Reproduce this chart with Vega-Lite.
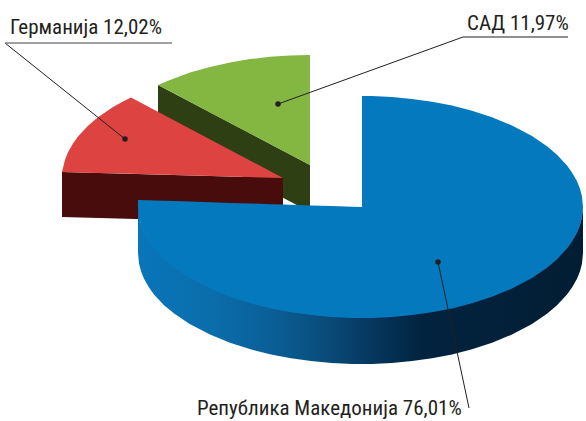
{"$schema":"https://vega.github.io/schema/vega-lite/v6.json","width":586,"height":421,"padding":0,"autosize":{"type":"none"},"background":"white","config":{"view":{"stroke":null}},
"datasets":{
"greenSide":[{"x":158,"top":85,"bottom":132},{"x":310,"top":165,"bottom":212}],
"greenTop":[{"x":158,"top":85,"bottom":85},{"x":170,"top":79.9,"bottom":91.3},{"x":190,"top":72.6,"bottom":101.8},{"x":210,"top":66.9,"bottom":112.4},{"x":230,"top":62.5,"bottom":122.9},{"x":250,"top":59.1,"bottom":133.4},{"x":270,"top":56.8,"bottom":143.9},{"x":290,"top":55.5,"bottom":154.5},{"x":310,"top":55,"bottom":165}],
"redSide":[{"x":62,"top":172,"bottom":217},{"x":283,"top":178,"bottom":223}],
"redTop":[{"x":62,"top":172,"bottom":172},{"x":65,"top":159.8,"bottom":172.1},{"x":68,"top":152.3,"bottom":172.2},{"x":73,"top":143.4,"bottom":172.3},{"x":78,"top":136.5,"bottom":172.4},{"x":88,"top":125.8,"bottom":172.7},{"x":98,"top":117.3,"bottom":172.9},{"x":113,"top":107.1,"bottom":173.3},{"x":123,"top":101.4,"bottom":173.6},{"x":131,"top":97.4,"bottom":173.8},{"x":283,"top":178,"bottom":178}],
"blueSide":[{"x":138,"top":200,"bottom":253},{"x":139,"top":216.5,"bottom":263.5},{"x":141,"top":224.2,"bottom":271.2},{"x":144,"top":231.7,"bottom":278.7},{"x":149,"top":240.6,"bottom":287.6},{"x":154,"top":247.5,"bottom":294.5},{"x":164,"top":258.2,"bottom":305.2},{"x":174.5,"top":266.7,"bottom":313.7},{"x":189.7,"top":276.9,"bottom":323.9},{"x":210,"top":287.5,"bottom":334.5},{"x":230,"top":295.8,"bottom":342.8},{"x":250.5,"top":302.3,"bottom":349.3},{"x":271,"top":307.4,"bottom":354.4},{"x":291,"top":311.3,"bottom":358.3},{"x":311,"top":314.1,"bottom":361.1},{"x":331.6,"top":316,"bottom":363},{"x":352,"top":316.9,"bottom":363.9},{"x":362,"top":317,"bottom":364},{"x":372,"top":316.9,"bottom":363.9},{"x":392,"top":316,"bottom":363},{"x":412,"top":314.1,"bottom":361.1},{"x":432,"top":311.3,"bottom":358.3},{"x":452,"top":307.4,"bottom":354.4},{"x":472,"top":302.3,"bottom":349.3},{"x":492,"top":295.8,"bottom":342.8},{"x":512,"top":287.5,"bottom":334.5},{"x":532,"top":276.9,"bottom":323.9},{"x":547,"top":266.7,"bottom":313.7},{"x":557,"top":258.2,"bottom":305.2},{"x":567,"top":247.5,"bottom":294.5},{"x":572,"top":240.6,"bottom":287.6},{"x":577,"top":231.7,"bottom":278.7},{"x":580,"top":224.2,"bottom":271.2},{"x":582,"top":216.5,"bottom":263.5},{"x":583,"top":206,"bottom":253}],
"blueTop":[{"x":138,"top":200,"bottom":207},{"x":139,"top":200,"bottom":217.5},{"x":141,"top":200.1,"bottom":225.2},{"x":144,"top":200.2,"bottom":232.7},{"x":149,"top":200.3,"bottom":241.6},{"x":154,"top":200.5,"bottom":248.5},{"x":164,"top":200.8,"bottom":259.2},{"x":174.5,"top":201.1,"bottom":267.7},{"x":189.7,"top":201.6,"bottom":277.9},{"x":210,"top":202.3,"bottom":288.5},{"x":230,"top":202.9,"bottom":296.8},{"x":250.5,"top":203.5,"bottom":303.3},{"x":271,"top":204.2,"bottom":308.4},{"x":291,"top":204.8,"bottom":312.3},{"x":311,"top":205.4,"bottom":315.1},{"x":331.6,"top":206.1,"bottom":317},{"x":352,"top":206.7,"bottom":317.9},{"x":362,"top":207,"bottom":318},{"x":362,"top":96,"bottom":318},{"x":372,"top":96.1,"bottom":317.9},{"x":392,"top":97,"bottom":317},{"x":412,"top":98.9,"bottom":315.1},{"x":432,"top":101.7,"bottom":312.3},{"x":452,"top":105.6,"bottom":308.4},{"x":472,"top":110.7,"bottom":303.3},{"x":492,"top":117.2,"bottom":296.8},{"x":512,"top":125.5,"bottom":288.5},{"x":532,"top":136.1,"bottom":277.9},{"x":547,"top":146.3,"bottom":267.7},{"x":557,"top":154.8,"bottom":259.2},{"x":567,"top":165.5,"bottom":248.5},{"x":572,"top":172.4,"bottom":241.6},{"x":577,"top":181.3,"bottom":232.7},{"x":580,"top":188.8,"bottom":225.2},{"x":582,"top":196.5,"bottom":217.5},{"x":583,"top":207,"bottom":207}],
"leaders":[{"name":"Германија","o":1,"x":125,"y":139},{"name":"Германија","o":2,"x":5,"y":43},{"name":"САД","o":1,"x":278,"y":104},{"name":"САД","o":2,"x":463,"y":37},{"name":"САД","o":3,"x":568,"y":37},{"name":"Република Македонија","o":1,"x":438,"y":262},{"name":"Република Македонија","o":2,"x":469,"y":408}],
"underline":[{"x":5,"y":43},{"x":172,"y":43}],
"dots":[{"x":125,"y":139},{"x":278,"y":104},{"x":438,"y":262}],
"labels":[{"x":10,"y":34,"label":"Германија 12,02%"},{"x":467,"y":30,"label":"САД 11,97%"},{"x":197,"y":415,"label":"Република Македонија 76,01%"}]
},
"encoding":{
"x":{"field":"x","type":"quantitative","axis":null,"scale":{"domain":[0,586],"range":[0,586],"nice":false,"zero":false}},
"y":{"field":"top","type":"quantitative","axis":null,"scale":{"domain":[0,421],"range":[0,421],"nice":false,"zero":false}}
},
"layer":[
{"data":{"name":"greenSide"},"mark":{"type":"area","fill":"#2f3f14"},"encoding":{"y2":{"field":"bottom"}}},
{"data":{"name":"greenTop"},"mark":{"type":"area","fill":"#84b741"},"encoding":{"y2":{"field":"bottom"}}},
{"data":{"name":"redSide"},"mark":{"type":"area","fill":"#470c0b"},"encoding":{"y2":{"field":"bottom"}}},
{"data":{"name":"redTop"},"mark":{"type":"area","fill":"#dd4340"},"encoding":{"y2":{"field":"bottom"}}},
{"data":{"name":"blueSide"},"mark":{"type":"area","fill":{"gradient":"linear","x1":0,"y1":0,"x2":1,"y2":0,"stops":[{"offset":0,"color":"#0876ba"},{"offset":0.18,"color":"#0b6ca9"},{"offset":0.3,"color":"#0a5f96"},{"offset":0.42,"color":"#0a4c7b"},{"offset":0.52,"color":"#06385f"},{"offset":0.64,"color":"#02233f"},{"offset":1,"color":"#021d33"}]}},"encoding":{"y2":{"field":"bottom"}}},
{"data":{"name":"blueTop"},"mark":{"type":"area","fill":"#0579bd"},"encoding":{"y2":{"field":"bottom"}}},
{"data":{"name":"leaders"},"mark":{"type":"line","color":"#231f20","strokeWidth":1},"encoding":{"y":{"field":"y","type":"quantitative"},"detail":{"field":"name"},"order":{"field":"o"}}},
{"data":{"name":"underline"},"mark":{"type":"line","color":"#808080","strokeWidth":1.5},"encoding":{"y":{"field":"y","type":"quantitative"}}},
{"data":{"name":"dots"},"mark":{"type":"point","filled":true,"color":"#231f20","opacity":1,"size":30},"encoding":{"y":{"field":"y","type":"quantitative"}}},
{"data":{"name":"labels"},"mark":{"type":"text","align":"left","baseline":"alphabetic","font":"Roboto Condensed, Lato","fontSize":21,"color":"#231f20"},"encoding":{"y":{"field":"y","type":"quantitative"},"text":{"field":"label"}}}
]}
